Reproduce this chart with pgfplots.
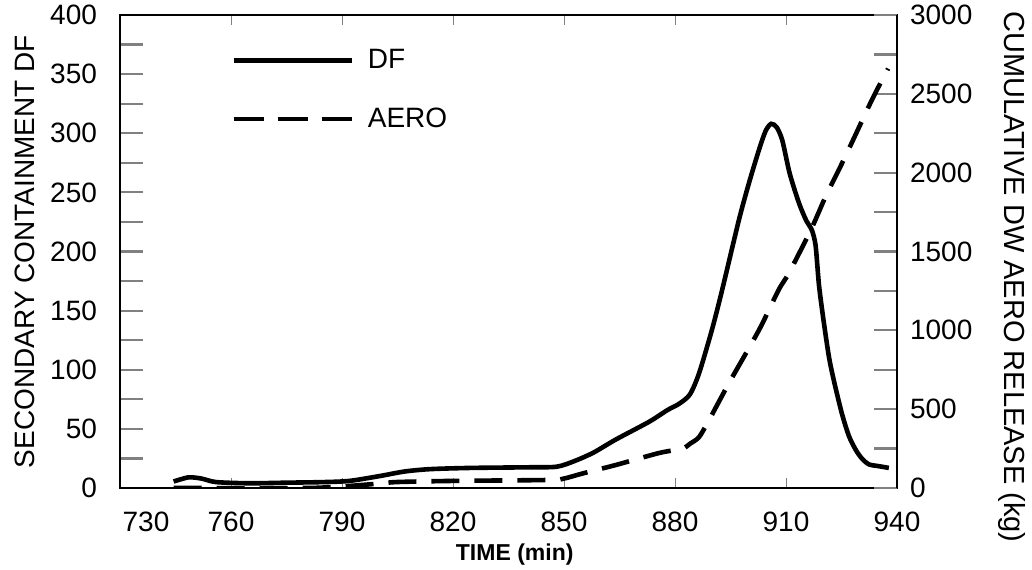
\documentclass[border=0pt]{standalone}
\usepackage{fontspec}
\setmainfont{Liberation Sans}
\usepackage{pgfplots}
\pgfplotsset{compat=1.18}

\pgfplotsset{
  base/.style={
    scale only axis, width=388.5pt, height=236.5pt,
    xmin=730, xmax=940,
    axis line style={line width=1.3pt},
    tick align=inside,
    /pgf/number format/assume math mode=true,
    /pgf/number format/1000 sep={},
    tick label style={font=\fontsize{14}{16}\selectfont},
    label style={font=\fontsize{14}{16}\selectfont},
    major tick length=11.5pt, minor tick length=11.5pt,
    ytick style={line width=1.1pt},
  }
}

\begin{document}
\begin{tikzpicture}
% thin x ticks only
\begin{axis}[base,
  ymin=0, ymax=400, ytick=\empty,
  xtick={760,790,...,910}, xticklabels={},
  major tick length=5pt, xtick style={line width=0.5pt},
]
\end{axis}

\begin{axis}[base,
  ymin=0, ymax=400,
  ytick={0,50,...,400}, minor ytick={25,75,...,375},
  ytick pos=left,
  xtick={730,760,...,940},
  xticklabels={\hspace*{26pt}730,760,790,820,850,880,910,940},
  xtick style={draw=none},
  xticklabel style={anchor=center, yshift=-17pt},
  yticklabel style={anchor=east, xshift=-8pt},
  ylabel={SECONDARY CONTAINMENT DF},
  ylabel style={at={(axis description cs:-0.122,0.5)}, anchor=center},
  xlabel={TIME (min)},
  xlabel style={at={(axis description cs:0.508,0)}, anchor=center, yshift=-33.5pt,
    font=\fontsize{11.5}{13}\selectfont\bfseries},
  legend style={draw=none, fill=none, at={(rel axis cs:0.135,0.945)}, anchor=north west,
    row sep=14pt, font=\fontsize{14}{16}\selectfont},
  legend cell align=left,
  legend image code/.code={\draw[#1] (0pt,0pt) -- (59pt,0pt); \path (64pt,0pt);},
]
\addplot[line width=2.3pt, smooth, tension=0.45] coordinates {
  (744.5,5.5) (748.5,9) (752,8) (756,5) (765,4) (775,4.5) (785,5) (792,6)
  (800,10) (807,14) (814,16) (825,17) (840,17.5) (848,18) (853,23) (858,30)
  (864,41) (873,56) (878,66) (881,71) (884,79) (886.5,97) (890,134)
  (892.7,167) (897.3,227) (900,258) (902.7,286) (904.5,302) (906,308)
  (907.5,305) (909,294) (911,266) (913.5,241) (915.5,226) (917,218)
  (918,205) (918.9,172) (920,145) (921.6,111) (923,90) (925.1,63) (927,44)
  (928.9,32) (930.5,25) (932.4,20) (935,18.5) (937.8,17)
};
\addlegendentry{DF}
\addlegendimage{line width=2.3pt, dash pattern=on 15pt off 7pt}
\addlegendentry{AERO}
\end{axis}

\begin{axis}[base,
  ymin=0, ymax=3000,
  axis x line=none, axis y line*=right,
  ytick={0,500,...,3000}, minor ytick={250,750,...,2750},
  yticklabel style={anchor=west, xshift=3pt},
  ylabel={CUMULATIVE DW AERO RELEASE (kg)},
  ylabel style={at={(axis description cs:1.148,0.446)}, anchor=center, rotate=180,
    font=\fontsize{14.5}{16}\selectfont},
]
\addplot[line width=2.3pt, dash pattern=on 14pt off 7.5pt, smooth, tension=0.45] coordinates {
  (744.5,0) (780,0) (788,8) (792,13) (800,28) (805,38) (820,45) (846,51)
  (850,60) (855,92) (864,146) (875.7,222) (882,250) (884,280) (886.5,323)
  (889.2,431) (894.6,666) (902.7,1002) (908,1256) (910.8,1364) (916.7,1636)
  (920.7,1848) (926,2101) (933.2,2461) (937.6,2660)
};
\end{axis}
\pgfresetboundingbox
\path[use as bounding box] (-60pt,-40.5pt) rectangle (456pt,244pt);
\end{tikzpicture}
\end{document}
